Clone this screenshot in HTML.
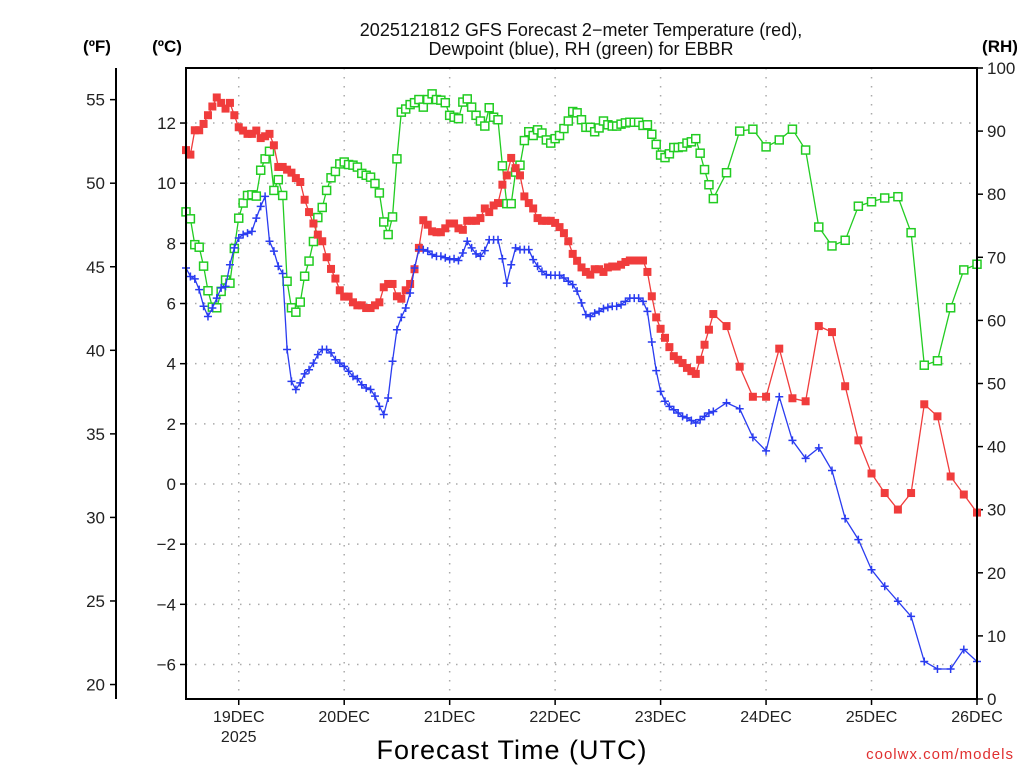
<!DOCTYPE html>
<html><head><meta charset="utf-8"><style>
html,body{margin:0;padding:0;background:#fff;}
svg text{font-family:"Liberation Sans",sans-serif;}
</style></head><body>
<svg id="chart" width="1024" height="768" viewBox="0 0 1024 768" xmlns="http://www.w3.org/2000/svg">
<text x="581" y="36" font-size="18" text-anchor="middle" fill="#111">2025121812 GFS Forecast 2−meter Temperature (red),</text>
<text x="581" y="55" font-size="18" text-anchor="middle" fill="#111">Dewpoint (blue), RH (green) for EBBR</text>
<text x="97" y="52" font-size="17" font-weight="bold" text-anchor="middle" fill="#000">(ºF)</text>
<text x="167" y="52" font-size="17" font-weight="bold" text-anchor="middle" fill="#000">(ºC)</text>
<text x="1000" y="52" font-size="17" font-weight="bold" text-anchor="middle" fill="#000">(RH)</text>
<g id="grid"></g>
<g id="axes"></g>
<g id="series"></g>
<rect x="186" y="68" width="791" height="631" fill="none" stroke="#000" stroke-width="2"/>
<text x="512" y="759" font-size="27" text-anchor="middle" fill="#000" letter-spacing="1">Forecast Time (UTC)</text>
<text x="1014" y="759" font-size="15" text-anchor="end" fill="#e03030" letter-spacing="1">coolwx.com/models</text>
</svg>
<script>
const dayLabels = ["19DEC","20DEC","21DEC","22DEC","23DEC","24DEC","25DEC","26DEC"];
const dayHours = [12,36,60,84,108,132,156,180];
const celsiusTicks = [-6,-4,-2,0,2,4,6,8,10,12];
const fahrenheitTicks = [20,25,30,35,40,45,50,55];
const rhTicks = [0,10,20,30,40,50,60,70,80,90,100];
const tempHourly = [11.1,10.95,11.76,11.76,11.97,12.26,12.55,12.85,12.67,12.48,12.67,12.26,11.86,11.75,11.64,11.64,11.75,11.5,11.56,11.64,11.26,
10.54,10.54,10.45,10.35,10.17,10.04,9.45,9.04,8.66,8.29,8.07,7.54,7.15,6.83,6.44,6.23,6.23,6.04,5.94,5.94,5.85,5.85,5.94,6.04,
6.54,6.65,6.65,6.24,6.16,6.44,6.65,7.14,7.85,8.77,8.62,8.4,8.37,8.37,8.5,8.66,
8.66,8.5,8.45,8.75,8.75,8.75,8.84,9.16,9.04,9.26,9.34,9.95,10.26,10.84,10.5,10.26,
9.56,9.34,9.16,8.84,8.75,8.75,8.75,8.68,8.54,8.34,8.07,7.65,7.42,7.2,7.05,6.96,
7.14,7.14,7.05,7.2,7.23,7.23,7.29,7.38,7.43,7.43,7.43,7.43,
7.05,6.24,5.54,5.16,4.86,4.55,4.25,4.13,4.02,3.86,3.75,3.66,4.13,4.63,5.13,5.65];
const temp3h = [5.25,3.9,2.9,2.9,4.5,2.85,2.75,5.25,5.05,3.25,1.45,0.35,-0.3,-0.85,-0.3,2.65,2.25,0.25,-0.35,-0.95];
const dewHourly = [7.18,6.9,6.82,6.46,5.91,5.57,5.85,6.18,6.52,6.57,7.29,7.85,8.18,8.29,8.34,8.4,8.84,9.23,9.56,8.07,7.74,7.24,7.0,4.47,3.41,3.14,3.36,3.66,3.8,4.02,4.3,4.47,4.47,4.36,4.13,4.02,3.91,3.75,3.58,3.5,3.3,3.19,3.14,2.92,2.58,2.31,2.86,4.08,5.13,5.54,5.85,6.35,7.18,7.79,7.79,7.74,7.63,7.57,7.57,7.52,7.46,7.49,
7.43,7.68,8.07,7.85,7.65,7.57,7.76,8.12,8.12,8.12,7.49,6.68,7.29,7.85,7.79,7.79,7.79,7.46,7.24,7.07,6.96,6.94,6.94,6.94,6.85,6.74,6.63,6.41,6.02,5.63,5.57,5.68,5.74,5.83,5.87,5.91,5.91,5.96,6.07,6.18,6.18,6.18,6.07,5.74,4.72,3.77,3.08,2.75,2.58,2.47,2.36,2.25,2.2,2.11,2.03,2.14,2.25,2.36,2.41];
const dew3h = [2.7,2.5,1.55,1.1,2.9,1.45,0.85,1.2,0.45,-1.15,-1.85,-2.85,-3.4,-3.9,-4.4,-5.9,-6.15,-6.15,-5.5,-5.9];
const rhHourly = [77.2,76.1,72.0,71.6,68.6,64.7,62.1,62.0,64.6,66.4,65.9,71.4,76.2,78.6,79.8,79.9,79.7,83.8,85.6,86.8,80.6,82.3,79.8,66.2,62.0,61.3,62.9,67.0,69.4,72.5,76.3,77.9,80.6,82.6,83.6,84.8,85.1,84.7,84.6,84.3,83.3,83.0,82.7,81.7,80.2,75.6,73.6,76.4,85.6,93.0,93.5,94.2,94.5,95.0,93.8,95.0,95.9,95.0,94.9,94.5,92.5,92.2,
91.97,94.6,95.1,93.8,92.5,91.6,90.8,93.7,92.2,91.8,84.5,78.5,78.5,83.5,84.6,88.5,89.9,89.3,90.2,89.7,88.6,88.1,88.8,89.3,90.4,91.6,93.1,92.9,91.8,90.6,90.6,89.9,90.5,91.6,91.0,90.8,90.8,91.1,91.3,91.4,91.4,91.4,90.9,91.0,89.5,87.9,86.2,85.8,86.4,87.4,87.4,87.5,88.1,88.3,88.8,86.5,83.9,81.5,79.3];
const rh3h = [83.4,90.0,90.3,87.5,88.6,90.3,87.0,74.8,71.8,72.7,78.1,78.8,79.4,79.6,73.9,52.9,53.6,62.0,68.0,68.9];

const NS="http://www.w3.org/2000/svg";
const X0=186,X1=977,Y0=68,Y1=699;
function xAt(h){return X0+(X1-X0)*h/180;}
function yC(t){return 484-30.08*t;}
function yF(f){return yC((f-32)/1.8);}
function yRH(r){return Y1-(Y1-Y0)*r/100;}
function mk(tag,attrs,parent){const e=document.createElementNS(NS,tag);for(const k in attrs)e.setAttribute(k,attrs[k]);parent.appendChild(e);return e;}
const grid=document.getElementById('grid'),axes=document.getElementById('axes'),ser=document.getElementById('series');

dayHours.forEach((h,i)=>{
  const x=xAt(h);
  if(h<180){const l=mk('line',{x1:x,y1:Y0,x2:x,y2:Y1,stroke:'#aaa','stroke-width':1.5,'stroke-dasharray':'1.5 7.5'},grid);
  
  }
  const t=mk('line',{x1:x,y1:Y1,x2:x,y2:Y1+6,stroke:'#000','stroke-width':1.5},axes);
  
  
  const tx=mk('text',{x:x,y:722,'font-size':16,'text-anchor':'middle',fill:'#222'},axes);
  tx.textContent=dayLabels[i];
  
  
});
const yr=mk('text',{x:xAt(12),y:742,'font-size':16,'text-anchor':'middle',fill:'#222'},axes);
yr.textContent='2025';



celsiusTicks.forEach(c=>{
  const y=yC(c);
  const g=mk('line',{x1:X0,y1:y,x2:X1,y2:y,stroke:'#aaa','stroke-width':1.5,'stroke-dasharray':'1.5 7.5'},grid);
  
  
  const t=mk('line',{x1:X0-6,y1:y,x2:X0,y2:y,stroke:'#000','stroke-width':1.5},axes);
  
  
  const tx=mk('text',{x:X0-10,y:y+6,'font-size':17,'text-anchor':'end',fill:'#222'},axes);
  tx.textContent=c<0?'−'+(-c):String(c);
  
  
});
const fl=mk('line',{x1:116,y1:Y0,x2:116,y2:Y1,stroke:'#000','stroke-width':2},axes);


fahrenheitTicks.forEach(f=>{
  const y=yF(f);
  const t=mk('line',{x1:110,y1:y,x2:116,y2:y,stroke:'#000','stroke-width':1.5},axes);
  
  
  const tx=mk('text',{x:105,y:y+6,'font-size':17,'text-anchor':'end',fill:'#222'},axes);
  tx.textContent=String(f);
  
  
});
rhTicks.forEach(r=>{
  const y=yRH(r);
  const t=mk('line',{x1:X1,y1:y,x2:X1+6,y2:y,stroke:'#000','stroke-width':1.5},axes);
  
  
  const tx=mk('text',{x:X1+10,y:y+6,'font-size':17,'text-anchor':'start',fill:'#222'},axes);
  tx.textContent=String(r);
  
  
});

function pts(hourly,three,yf){
  const p=[];hourly.forEach((v,h)=>p.push([xAt(h),yf(v)]));
  three.forEach((v,i)=>p.push([xAt(123+3*i),yf(v)]));return p;
}
function drawSeries(p,color,kind,name){
  const g=mk('g',{},ser);
  
  
  const l=mk('polyline',{points:p.map(q=>q[0].toFixed(1)+','+q[1].toFixed(1)).join(' '),fill:'none',stroke:color,'stroke-width':1.3},g);
  
  
  p.forEach(q=>{
    let m;
    if(kind==='fill'){m=mk('rect',{x:q[0]-4,y:q[1]-4,width:8,height:8,fill:color},g);}
    else if(kind==='open'){m=mk('rect',{x:q[0]-4,y:q[1]-4,width:8,height:8,fill:'#fff',stroke:color,'stroke-width':1.5},g);}
    else{m=mk('path',{d:`M${q[0]-4},${q[1]}h8M${q[0]},${q[1]-4}v8`,stroke:color,'stroke-width':1.5},g);}
    
    
  });
}
drawSeries(pts(rhHourly,rh3h,yRH),'#22cc22','open','rh-series');
drawSeries(pts(tempHourly,temp3h,yC),'#f03c3c','fill','temperature-series');
drawSeries(pts(dewHourly,dew3h,yC),'#2a3cf0','plus','dewpoint-series');
</script>
</body></html>
